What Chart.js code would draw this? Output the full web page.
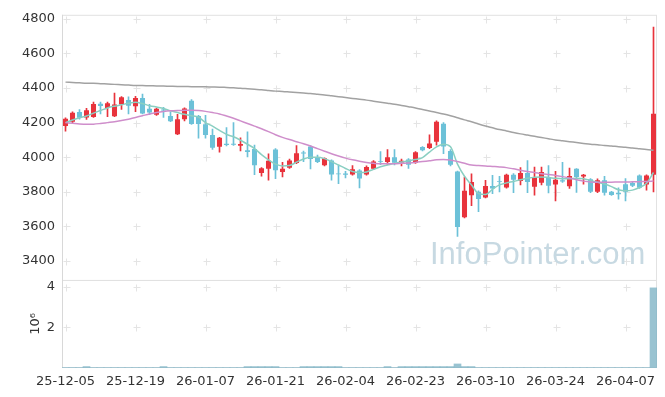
<!DOCTYPE html>
<html>
<head>
<meta charset="utf-8">
<script src="https://cdn.jsdelivr.net/npm/chart.js@4.4.0/dist/chart.umd.min.js"></script>
<style>
html, body { margin: 0; padding: 0; background: #fff; }
#wrap { position: relative; width: 665px; height: 397px; }
#mark { position: absolute; left: 430px; top: 236px; font: 31px "Liberation Sans", Arial, sans-serif; color: #c7d9e2; pointer-events: none; }
</style>
</head>
<body>
<div id="wrap">
  <canvas id="chart" width="665" height="397"></canvas>
  <div id="mark">InfoPointer.com</div>
</div>
<script>
// Trading days (KRX)
const dates = [
    '25-12-05', '25-12-08', '25-12-09', '25-12-10', '25-12-11', '25-12-12', '25-12-15', '25-12-16', '25-12-17', '25-12-18',
    '25-12-19', '25-12-22', '25-12-23', '25-12-24', '25-12-26', '25-12-29', '25-12-30', '26-01-02', '26-01-05', '26-01-06',
    '26-01-07', '26-01-08', '26-01-09', '26-01-12', '26-01-13', '26-01-14', '26-01-15', '26-01-16', '26-01-19', '26-01-20',
    '26-01-21', '26-01-22', '26-01-23', '26-01-26', '26-01-27', '26-01-28', '26-01-29', '26-01-30', '26-02-02', '26-02-03',
    '26-02-04', '26-02-05', '26-02-06', '26-02-09', '26-02-10', '26-02-11', '26-02-12', '26-02-13', '26-02-19', '26-02-20',
    '26-02-23', '26-02-24', '26-02-25', '26-02-26', '26-02-27', '26-03-03', '26-03-04', '26-03-05', '26-03-06', '26-03-09',
    '26-03-10', '26-03-11', '26-03-12', '26-03-13', '26-03-16', '26-03-17', '26-03-18', '26-03-19', '26-03-20', '26-03-23',
    '26-03-24', '26-03-25', '26-03-26', '26-03-27', '26-03-30', '26-03-31', '26-04-01', '26-04-02', '26-04-03', '26-04-06',
    '26-04-07', '26-04-08', '26-04-09', '26-04-10', '26-04-13'
];

const opens = [
    4180, 4205, 4262, 4230, 4232, 4309, 4285, 4237, 4305, 4330,
    4294, 4342, 4280, 4245, 4276, 4238, 4133, 4220, 4326, 4238,
    4190, 4128, 4060, 4078, 4078, 4066, 4040, 4048, 3909, 3933,
    4044, 3914, 3939, 3967, 4027, 4062, 4000, 3953, 3981, 3906,
    3906, 3900, 3924, 3900, 3933, 3978, 3972, 4000, 3968, 3987,
    3968, 4059, 4053, 4090, 4194, 4036, 3918, 3653, 3781, 3800,
    3767, 3834, 3862, 3825, 3899, 3863, 3909, 3829, 3852, 3886,
    3842, 3867, 3833, 3933, 3888, 3873, 3800, 3867, 3800, 3795,
    3844, 3851, 3895, 3842, 3899
];
const highs = [
    4228, 4263, 4275, 4282, 4318, 4318, 4318, 4370, 4350, 4349,
    4352, 4365, 4305, 4284, 4288, 4262, 4248, 4285, 4333, 4242,
    4242, 4162, 4115, 4172, 4200, 4112, 4147, 4070, 3940, 4020,
    4050, 3971, 3990, 4067, 4035, 4068, 4013, 3996, 3985, 3952,
    3918, 3952, 3928, 3950, 3980, 4033, 4044, 4044, 3990, 3992,
    4033, 4062, 4130, 4210, 4200, 4044, 3920, 3886, 3904, 3806,
    3867, 3895, 3890, 3902, 3905, 3940, 3981, 3943, 3943, 3952,
    3918, 3971, 3937, 3935, 3901, 3876, 3875, 3890, 3803, 3823,
    3876, 3855, 3898, 3898, 4752
];
const lows = [
    4150, 4200, 4220, 4218, 4230, 4250, 4235, 4235, 4277, 4250,
    4263, 4250, 4246, 4242, 4230, 4205, 4130, 4210, 4190, 4110,
    4110, 4045, 4030, 4066, 4068, 4036, 4002, 3900, 3891, 3867,
    3876, 3886, 3935, 3963, 3975, 3933, 3968, 3950, 3867, 3848,
    3880, 3897, 3823, 3897, 3928, 3957, 3957, 3955, 3950, 3935,
    3965, 4036, 4050, 4070, 4020, 3950, 3543, 3650, 3720, 3686,
    3765, 3790, 3800, 3822, 3795, 3840, 3796, 3781, 3840, 3794,
    3747, 3855, 3820, 3797, 3845, 3796, 3796, 3781, 3779, 3758,
    3747, 3830, 3820, 3810, 3800
];
const closes = [
    4222, 4257, 4228, 4272, 4307, 4296, 4312, 4305, 4346, 4297,
    4342, 4252, 4258, 4280, 4270, 4208, 4219, 4282, 4192, 4192,
    4128, 4055, 4112, 4070, 4072, 4076, 4030, 3953, 3937, 3980,
    3925, 3933, 3981, 4023, 4022, 3990, 3972, 3994, 3900, 3902,
    3899, 3930, 3877, 3943, 3975, 3974, 4000, 3968, 3980, 3957,
    4029, 4040, 4080, 4205, 4062, 3957, 3597, 3806, 3857, 3758,
    3834, 3820, 3858, 3899, 3870, 3909, 3857, 3886, 3914, 3835,
    3870, 3860, 3891, 3886, 3899, 3800, 3867, 3795, 3782, 3786,
    3800, 3835, 3823, 3895, 4251
];

// Volume, millions of shares
const volumes = [
    0.02, 0.02, 0.02, 0.07, 0.02, 0.02, 0.02, 0.02, 0.02, 0.02,
    0.02, 0.02, 0.02, 0.02, 0.07, 0.02, 0.02, 0.02, 0.02, 0.02,
    0.02, 0.02, 0.02, 0.02, 0.02, 0.02, 0.07, 0.07, 0.07, 0.07,
    0.07, 0.02, 0.02, 0.02, 0.07, 0.07, 0.07, 0.07, 0.07, 0.07,
    0.02, 0.02, 0.02, 0.02, 0.02, 0.02, 0.07, 0.02, 0.07, 0.07,
    0.07, 0.07, 0.07, 0.07, 0.07, 0.07, 0.2, 0.07, 0.07, 0.02,
    0.02, 0.02, 0.02, 0.02, 0.02, 0.02, 0.02, 0.02, 0.02, 0.02,
    0.02, 0.02, 0.02, 0.02, 0.02, 0.02, 0.02, 0.02, 0.02, 0.02,
    0.02, 0.02, 0.02, 0.02, 3.95
];

// Moving averages
const ma5 = [
    4200, 4215, 4228, 4238, 4255, 4270, 4285, 4295, 4303, 4312,
    4318, 4310, 4298, 4290, 4282, 4268, 4258, 4248, 4240, 4232,
    4200, 4180, 4155, 4132, 4118, 4098, 4075, 4050, 4015, 3985,
    3960, 3950, 3952, 3972, 3990, 4000, 4000, 3992, 3975, 3955,
    3935, 3918, 3912, 3915, 3930, 3945, 3955, 3965, 3972, 3980,
    3987, 3998, 4030, 4060, 4075, 4060, 3960, 3890, 3840, 3790,
    3785, 3815, 3840, 3852, 3860, 3870, 3878, 3884, 3886, 3883,
    3878, 3876, 3876, 3878, 3876, 3866, 3855, 3845, 3830, 3812,
    3806, 3810, 3825, 3850, 3912
];
const ma20 = [
    4200, 4196, 4192, 4190, 4191, 4195, 4200, 4205, 4212, 4220,
    4230, 4240, 4250, 4258, 4264, 4268, 4270, 4271, 4272, 4270,
    4265, 4258, 4250, 4238, 4225, 4210, 4195, 4180, 4165, 4148,
    4130, 4115, 4102, 4090, 4078, 4065, 4050, 4035, 4020, 4007,
    3995, 3985, 3977, 3970, 3965, 3962, 3962, 3963, 3965, 3967,
    3970, 3975, 3980, 3985, 3987, 3984, 3975, 3965, 3955, 3952,
    3950, 3947, 3944, 3940, 3933, 3925, 3918, 3912, 3905, 3900,
    3895, 3888, 3880, 3870, 3862, 3857, 3856, 3856, 3856, 3857,
    3857, 3858, 3859, 3860, 3862
];
const ma60 = [
    4434, 4432, 4430, 4428, 4427, 4425, 4423, 4421, 4419, 4417,
    4415, 4414, 4413, 4412, 4411, 4410, 4409, 4409, 4408, 4408,
    4407, 4406, 4405, 4403, 4401, 4399, 4396, 4393, 4390, 4386,
    4382, 4380, 4377, 4374, 4371, 4368, 4364, 4360, 4355, 4350,
    4345, 4340, 4335, 4330, 4324, 4318, 4312, 4306, 4299, 4292,
    4285, 4276, 4267, 4258, 4250, 4240, 4228, 4216, 4205, 4192,
    4180, 4170, 4160, 4152, 4143, 4135, 4128, 4121, 4114, 4107,
    4100, 4095, 4090, 4085, 4080, 4075, 4072, 4068, 4065, 4061,
    4058, 4053, 4049, 4045, 4040
];

const priceTicks = [3400, 3600, 3800, 4000, 4200, 4400, 4600, 4800];
const volTicks = [2, 4];

const UP = '#e8333c';
const DOWN = '#6cc1d8';
const candleColors = opens.map((o, i) => closes[i] >= o ? UP : DOWN);

const tickFont = { family: 'DejaVu Sans', size: 13 };

// Light frames around both panels and small crosses at tick positions
const panelPlugin = {
    id: 'panels',
    beforeDatasetsDraw(chart) {
        const { ctx, scales: { x, y, yVol } } = chart;
        ctx.save();
        ctx.lineWidth = 1;
        ctx.strokeStyle = '#e4e4e4';
        for (let i = 0; i < dates.length; i += 10) {
            const px = Math.round(x.getPixelForValue(i)) + 0.5;
            [[y, priceTicks], [yVol, volTicks]].forEach(([s, vals]) => {
                vals.forEach(v => {
                    const py = Math.round(s.getPixelForValue(v)) + 0.5;
                    ctx.beginPath();
                    ctx.moveTo(px - 3, py); ctx.lineTo(px + 4, py);
                    ctx.moveTo(px, py - 3); ctx.lineTo(px, py + 4);
                    ctx.stroke();
                });
            });
        }
        ctx.strokeStyle = '#e2e2e2';
        ctx.strokeRect(x.left + 0.5, y.top + 0.5, x.right - x.left - 1, y.bottom - y.top);
        ctx.strokeRect(x.left + 0.5, yVol.top + 0.5, x.right - x.left - 1, yVol.bottom - yVol.top - 1);
        ctx.strokeStyle = '#d8d8d8';
        ctx.beginPath();
        ctx.moveTo(x.left + 0.5, y.top);
        ctx.lineTo(x.left + 0.5, yVol.bottom);
        ctx.stroke();
        ctx.restore();
    }
};

const lineStyle = { type: 'line', yAxisID: 'y', pointRadius: 0, borderWidth: 1.5, cubicInterpolationMode: 'monotone', fill: false };

const chart = new Chart(document.getElementById('chart').getContext('2d'), {
    type: 'bar',
    data: {
        labels: dates,
        datasets: [
            { ...lineStyle, label: 'MA60', data: ma60, borderColor: '#a2a2a2', order: 0 },
            { ...lineStyle, label: 'MA20', data: ma20, borderColor: '#cf8ecb', order: 0 },
            { ...lineStyle, label: 'MA5', data: ma5, borderColor: '#8acfc2', order: 0 },
            {
                label: 'Body',
                data: opens.map((o, i) => [o, closes[i]]),
                yAxisID: 'y',
                backgroundColor: candleColors,
                barPercentage: 0.72,
                categoryPercentage: 1,
                grouped: false,
                order: 1
            },
            {
                label: 'Wick',
                data: lows.map((l, i) => [l, highs[i]]),
                yAxisID: 'y',
                backgroundColor: candleColors,
                barThickness: 1,
                grouped: false,
                order: 2
            },
            {
                label: 'Volume',
                data: volumes,
                yAxisID: 'yVol',
                backgroundColor: 'rgba(128,180,198,0.8)',
                barPercentage: 1,
                categoryPercentage: 1,
                grouped: false,
                order: 3
            }
        ]
    },
    options: {
        responsive: false,
        animation: false,
        devicePixelRatio: 1,
        layout: { padding: { top: 11, right: 8, left: 0, bottom: 0 } },
        plugins: {
            legend: { display: false },
            tooltip: { enabled: false }
        },
        scales: {
            x: {
                type: 'category',
                offset: true,
                grid: { display: false, drawTicks: false },
                border: { display: false },
                ticks: {
                    autoSkip: false,
                    maxRotation: 0,
                    padding: 6,
                    color: '#333',
                    font: tickFont,
                    callback: (v, i) => (i % 10 === 0 ? dates[i] : '')
                },
                afterFit: s => { s.height = 29; }
            },
            yVol: {
                type: 'linear',
                position: 'left',
                stack: 'panels',
                stackWeight: 89,
                min: 0,
                max: 4.34,
                grid: { display: false, drawTicks: false },
                border: { display: false },
                ticks: { padding: 7, color: '#333', font: tickFont, callback: v => String(v) },
                afterBuildTicks: s => { s.ticks = volTicks.map(v => ({ value: v })); },
                title: {
                    display: true,
                    text: '10⁶',
                    color: '#333',
                    font: tickFont,
                    padding: { top: 28, bottom: 0 }
                },
                afterFit: s => { s.width = 62; }
            },
            y: {
                type: 'linear',
                position: 'left',
                stack: 'panels',
                stackWeight: 268,
                min: 3291,
                max: 4823,
                grid: { display: false, drawTicks: false },
                border: { display: false },
                ticks: { padding: 7, color: '#333', font: tickFont, callback: v => String(v) },
                afterBuildTicks: s => { s.ticks = priceTicks.map(v => ({ value: v })); },
                afterFit: s => { s.width = 62; }
            }
        }
    },
    plugins: [panelPlugin]
});
</script>
</body>
</html>
